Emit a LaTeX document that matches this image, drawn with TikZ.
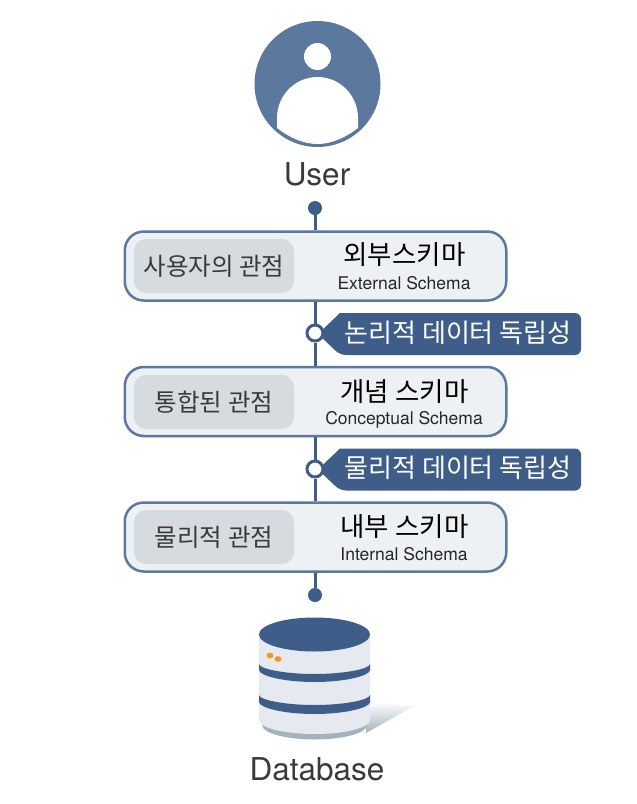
\documentclass[tikz,border=0pt]{standalone}
\usepackage{fontspec}
\setmainfont{TeX Gyre Heros}
\newfontfamily\kr{Noto Sans CJK KR}
\usetikzlibrary{shadings}
\definecolor{linec}{HTML}{3F5D89}
\definecolor{borderc}{HTML}{5B789E}
\definecolor{boxc}{HTML}{EEF1F3}
\definecolor{innerc}{HTML}{D5DBDF}
\definecolor{txtd}{HTML}{3A3A3C}
\definecolor{cylc}{HTML}{E6EAF0}
\definecolor{lipc}{HTML}{A3B2BE}
\definecolor{orangec}{HTML}{F7941D}
\tikzset{
 x=1pt,y=-1pt,
 outerbox/.style={draw=borderc,line width=2.5pt,fill=boxc,rounded corners=19pt,minimum width=381.5pt,minimum height=69pt,inner sep=0pt},
 innerbox/.style={fill=innerc,rounded corners=12pt,minimum width=160pt,minimum height=54pt,inner sep=0pt,text=txtd,font=\kr\fontsize{24.5}{28}\selectfont},
 kortitle/.style={font=\kr\fontsize{26.5}{30}\selectfont,text=black,inner sep=0pt},
 engsub/.style={font=\fontsize{17.5}{20}\selectfont,text=black!85,inner sep=0pt},
 dotn/.style={circle,fill=linec,minimum size=14pt,inner sep=0pt},
 ringn/.style={circle,fill=white,draw=linec,line width=3pt,minimum size=16pt,inner sep=0pt},
 taglabel/.style={font=\kr\fontsize{26}{29}\selectfont,text=white,inner sep=0pt},
 conn/.style={draw=linec,line width=3pt},
 biglabel/.style={font=\fontsize{31.5}{36}\selectfont,text=txtd,inner sep=0pt},
}
\newcommand{\tagshape}[1]{\fill[linec,rounded corners=6pt] (340,#1-21) -- (581,#1-21) -- (581,#1+21) -- (340,#1+21) [sharp corners] -- (318,#1) -- cycle;}
\begin{document}
\begin{tikzpicture}
\useasboundingbox (0,0) rectangle (637,804);
% user icon
\fill[borderc] (317.5,84) circle[radius=63pt];
\fill[white] (277,128) -- (277,118) arc[start angle=180,end angle=0,x radius=40.5pt,y radius=41pt] -- (358,128) .. controls (345,138) and (331,144) .. (317.5,144) .. controls (304,144) and (290,138) .. (277,128) -- cycle;
\fill[white] (317.5,56.5) circle[radius=13.5pt];
\node[biglabel] (user) at (317,174) {User};
% tags
\tagshape{334}
\tagshape{469.5}
% connector anchors
\node[dotn] (top) at (315,208) {};
\node[dotn] (bottom) at (315,595) {};
\node[ringn] (r1) at (315,333) {};
\node[ringn] (r2) at (315,469) {};
\node[outerbox] (b1) at (315.5,266) {};
\node[outerbox] (b2) at (315.5,401.5) {};
\node[outerbox] (b3) at (315.5,537) {};
\draw[conn] (top) -- (b1.north -| top);
\draw[conn] (b1.south -| top) -- (r1);
\draw[conn] (r1) -- (b2.north -| r1);
\draw[conn] (b2.south -| r2) -- (r2);
\draw[conn] (r2) -- (b3.north -| r2);
\draw[conn] (b3.south -| bottom) -- (bottom);
% boxes content
\node[innerbox] (i1) at (214,266) {\raisebox{-1pt}{사용자의 관점}};
\node[innerbox] (i2) at (214,402) {\raisebox{-1pt}{통합된 관점}};
\node[innerbox] (i3) at (214,537) {\raisebox{-1pt}{물리적 관점}};
\node[kortitle] (t1) at (404.5,255) {외부스키마};
\node[engsub] (e1) at (404,283) {External Schema};
\node[kortitle] (t2) at (404.5,392) {개념 스키마};
\node[engsub] (e2) at (404,420) {Conceptual Schema};
\node[kortitle] (t3) at (404.5,527) {내부 스키마};
\node[engsub] (e3) at (404,554) {Internal Schema};
\node[taglabel] (g1) at (458,333) {논리적 데이터 독립성};
\node[taglabel] (g2) at (458,468) {물리적 데이터 독립성};
% database
\shade[top color=white,bottom color=lipc] (366,702) -- (414,706) -- (366,733) -- cycle;
\fill[lipc] (262,712) -- (367,712) -- (367,725) arc[start angle=0,end angle=-180,x radius=52.5pt,y radius=14.5pt] -- cycle;
\fill[cylc] (259,634) -- (370,634) -- (370,720) arc[start angle=0,end angle=-180,x radius=55.5pt,y radius=14pt] -- cycle;
\fill[linec,rounded corners=2pt] (259,662) arc[start angle=180,end angle=360,x radius=55.5pt,y radius=12pt] -- (370,668) arc[start angle=0,end angle=-180,x radius=55.5pt,y radius=14pt] -- cycle;
\fill[linec,rounded corners=2pt] (259,693) arc[start angle=180,end angle=360,x radius=55.5pt,y radius=12pt] -- (370,700) arc[start angle=0,end angle=-180,x radius=55.5pt,y radius=14pt] -- cycle;
\fill[linec] (314.5,634.5) ellipse[x radius=55.5pt,y radius=17pt];
\fill[orangec] (270,655.5) ellipse[x radius=3.5pt,y radius=2.8pt];
\fill[orangec] (278,659) ellipse[x radius=3.5pt,y radius=2.8pt];
\node[biglabel] (db) at (317,769) {Database};
\end{tikzpicture}
\end{document}
